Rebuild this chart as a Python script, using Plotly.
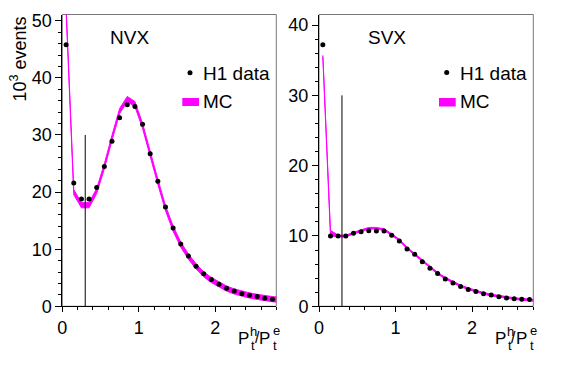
import plotly.graph_objects as go
from plotly.subplots import make_subplots

# ---------------- data ----------------
bin_centers = [0.05, 0.15, 0.25, 0.35, 0.45, 0.55, 0.65, 0.75, 0.85, 0.95,
               1.05, 1.15, 1.25, 1.35, 1.45, 1.55, 1.65, 1.75, 1.85, 1.95,
               2.05, 2.15, 2.25, 2.35, 2.45, 2.55, 2.65, 2.75]
mc_x = bin_centers + [2.85]

nvx_data = [45.8, 21.6, 18.8, 18.8, 20.8, 24.5, 28.9, 33.0, 35.3, 35.0,
            31.9, 26.7, 21.9, 17.4, 13.7, 10.9, 8.8, 7.0, 5.7, 4.7,
            3.85, 3.15, 2.7, 2.2, 1.95, 1.7, 1.4, 1.25]
nvx_mc = [52.0, 20.0, 17.7, 17.7, 20.2, 24.5, 29.5, 34.2, 36.3, 35.4,
          31.6, 26.5, 21.8, 17.2, 13.6, 10.8, 8.7, 7.0, 5.6, 4.6,
          3.8, 3.1, 2.6, 2.2, 1.9, 1.65, 1.4, 1.25, 1.1]
nvx_mc_err = [0.45] * 29

svx_data = [37.2, 10.0, 10.0, 10.0, 10.4, 10.6, 10.75, 10.7, 10.7, 10.1,
            9.3, 8.15, 7.4, 6.35, 5.4, 4.65, 3.9, 3.3, 2.8, 2.4,
            2.1, 1.8, 1.6, 1.37, 1.18, 1.09, 1.0, 0.95]
svx_mc = [35.6, 10.4, 10.0, 10.0, 10.4, 10.8, 11.1, 11.1, 10.9, 10.2,
          9.4, 8.3, 7.4, 6.4, 5.5, 4.7, 4.0, 3.4, 2.9, 2.5,
          2.15, 1.85, 1.6, 1.4, 1.2, 1.1, 1.0, 0.9, 0.8]
svx_mc_err = [0.1, 0.4] + [0.12] * 27

cut_x = [0.3, 0.3]
cut_y = [0, 30]

panel_names = ["NVX", "SVX"]
x_ticks = [0, 1, 2]
nvx_y_ticks = [0, 10, 20, 30, 40, 50]
svx_y_ticks = [0, 10, 20, 30, 40]
y_title = "10<sup>3</sup> events"
legend_labels = ["H1 data", "MC"]

# ---------------- figure ----------------
OFF = 8  # page body margin
W, H = 567 - OFF, 369 - OFF
FONT = "Liberation Sans, Arial, Helvetica, sans-serif"
MAG = "#ff00ff"

fig = make_subplots(rows=1, cols=2)

panels = [
    (nvx_data, nvx_mc, nvx_mc_err, 1),
    (svx_data, svx_mc, svx_mc_err, 2),
]
for data, mc, err, col in panels:
    lo = [m - e for m, e in zip(mc, err)]
    hi = [m + e for m, e in zip(mc, err)]
    fig.add_trace(go.Scatter(x=mc_x, y=lo, mode="lines",
                             line=dict(color=MAG, width=1), hoverinfo="skip"),
                  row=1, col=col)
    fig.add_trace(go.Scatter(x=mc_x, y=hi, mode="lines", fill="tonexty",
                             fillcolor=MAG, line=dict(color=MAG, width=1),
                             hoverinfo="skip"),
                  row=1, col=col)
    fig.add_trace(go.Scatter(x=cut_x, y=cut_y, mode="lines",
                             line=dict(color="black", width=1)),
                  row=1, col=col)
    fig.add_trace(go.Scatter(x=bin_centers, y=data, mode="markers",
                             marker=dict(color="black", size=5)),
                  row=1, col=col)

def px(x):
    return (x - OFF) / W

def py(y):
    return 1 - (y - OFF) / H

x_dom1 = [px(62.3), px(276.3)]
x_dom2 = [px(319.0), px(533.3)]
y_dom = [py(306.3), py(14.5)]

axis_common = dict(
    showgrid=False, zeroline=False, showline=True, linecolor="black",
    linewidth=1, ticks="outside", tickcolor="black", tickwidth=1,
    automargin=False,
    tickfont=dict(family=FONT, size=18, color="black"),
)

fig.update_xaxes(**axis_common, range=[0, 2.8], tickvals=x_ticks, ticklen=5,
                 minor=dict(dtick=0.2, ticks="outside", ticklen=3,
                            tickcolor="black"))
fig.update_xaxes(domain=x_dom1, row=1, col=1)
fig.update_xaxes(domain=x_dom2, row=1, col=2)
fig.update_yaxes(**axis_common, ticklen=6,
                 minor=dict(dtick=2, ticks="outside", ticklen=3,
                            tickcolor="black"))
fig.update_yaxes(domain=y_dom, range=[0, 51.1], tickvals=nvx_y_ticks,
                 row=1, col=1)
fig.update_yaxes(domain=y_dom, range=[0, 41.5], tickvals=svx_y_ticks,
                 row=1, col=2)

shapes = []
annotations = []
for i, xref in enumerate(["x", "x2"]):
    yref = "y" if i == 0 else "y2"
    shapes.append(dict(type="rect", xref=xref + " domain", yref=yref + " domain",
                       x0=0, x1=1, y0=0, y1=1,
                       line=dict(color="#777777", width=1), layer="below"))

dx_panel = [0, 257]
name_pos = [(107.5, 38), (365.5, 38)]
dot_pos = [(190, 72.7), (446.7, 72.5)]
rect_pos = [(182.3, 199, 98, 106), (439, 455.7, 98, 106.5)]
txt_x = [201, 458]
LAB = 19

for i in range(2):
    annotations.append(dict(text=panel_names[i], xref="paper", yref="paper",
                            x=px(name_pos[i][0]), y=py(name_pos[i][1]),
                            xanchor="left", yanchor="middle", showarrow=False,
                            font=dict(family=FONT, size=LAB, color="black")))
    cx, cy = dot_pos[i]
    shapes.append(dict(type="circle", xref="paper", yref="paper",
                       x0=px(cx - 2.5), x1=px(cx + 2.5),
                       y0=py(cy + 2.5), y1=py(cy - 2.5),
                       fillcolor="black", line=dict(width=0)))
    x0, x1, y0, y1 = rect_pos[i]
    shapes.append(dict(type="rect", xref="paper", yref="paper",
                       x0=px(x0), x1=px(x1), y0=py(y1), y1=py(y0),
                       fillcolor=MAG, line=dict(width=0)))
    annotations.append(dict(text=legend_labels[0], xref="paper", yref="paper",
                            x=px(txt_x[i]), y=py(73.5), xanchor="left",
                            yanchor="middle", showarrow=False,
                            font=dict(family=FONT, size=LAB, color="black")))
    annotations.append(dict(text=legend_labels[1], xref="paper", yref="paper",
                            x=px(txt_x[i]), y=py(102), xanchor="left",
                            yanchor="middle", showarrow=False,
                            font=dict(family=FONT, size=LAB, color="black")))
    d = dx_panel[i]
    parts = [
        ("P", 237.0, 338.5, 17),
        ("h", 248.8, 331.0, 13),
        ("t", 249.6, 345.0, 13),
        ("/", 253.5, 337.5, 16),
        ("P", 258.0, 338.5, 17),
        ("e", 271.5, 330.5, 13),
        ("t", 272.4, 345.0, 13),
    ]
    for t, x, y, s in parts:
        annotations.append(dict(text=t, xref="paper", yref="paper",
                                x=px(x + d), y=py(y), xanchor="left",
                                yanchor="middle", showarrow=False, borderpad=0,
                                font=dict(family=FONT, size=s, color="black")))

annotations.append(dict(text=y_title, xref="paper", yref="paper",
                        x=px(19.5), y=py(59), xanchor="center", yanchor="middle",
                        textangle=-90, showarrow=False, borderpad=0,
                        font=dict(family=FONT, size=18, color="black")))

fig.update_layout(width=W, height=H, margin=dict(l=0, r=0, t=0, b=0),
                  paper_bgcolor="white", plot_bgcolor="white",
                  showlegend=False, shapes=shapes, annotations=annotations,
                  font=dict(family=FONT, color="black"))

fig.write_html("out.html")
